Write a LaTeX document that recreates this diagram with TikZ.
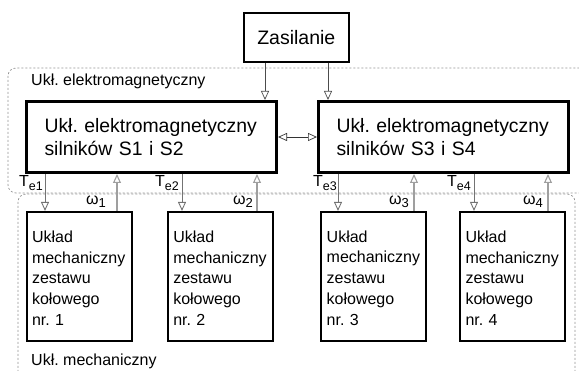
\documentclass[tikz,border=0pt]{standalone}
\usepackage{fontspec}
\setmainfont{Liberation Sans}
\usetikzlibrary{arrows.meta}
\frenchspacing
\begin{document}
\frenchspacing
\begin{tikzpicture}[x=1pt,y=-1pt,
  region/.style={draw=gray!85, line width=0.7pt, dash pattern=on 2pt off 2pt, rounded corners=8pt},
  bigbox/.style={draw, line width=3pt, minimum width=250pt, minimum height=71pt, text width=214pt, align=left, inner sep=0pt, font=\fontsize{19.4}{23}\selectfont},
  supbox/.style={draw, line width=2pt, minimum width=104.5pt, minimum height=49pt, inner sep=0pt, font=\fontsize{19.5}{23}\selectfont},
  mechbox/.style={draw, line width=2pt, minimum width=105pt, minimum height=128.7pt, text width=94pt, align=left, inner sep=0pt, text height=15pt, font=\fontsize{16}{20.75}\selectfont},
  regionlabel/.style={anchor=base west, inner sep=0pt, font=\fontsize{16}{18}\selectfont},
  varlabel/.style={anchor=base east, inner sep=0pt, font=\fontsize{16}{18}\selectfont},
  tearrow/.style={draw=gray!90!black, line width=0.9pt, -{Triangle[open, length=9pt, width=8pt]}},
  omarrow/.style={draw=gray!75, line width=1.1pt, -{Triangle[open, length=9pt, width=8pt]}},
  suparrow/.style={draw=black!70, line width=0.7pt, -{Triangle[open, length=9pt, width=8pt]}},
  dblarrow/.style={draw=black!80, line width=0.7pt, {Triangle[open, length=9pt, width=8pt]}-{Triangle[open, length=9pt, width=8pt]}}
]
\useasboundingbox (0,0) rectangle (579,371);

% regions
\begin{scope}
  \clip (0,0) rectangle (579,371);
  \draw[region] (8,68) rectangle (590,193);
  \draw[region] (18,194) rectangle (575,420);
\end{scope}
\node[regionlabel] (lem) at (31,86) {Ukł. elektromagnetyczny};
\node[regionlabel] (lmech) at (31,366) {Ukł. mechaniczny};

% boxes
\node[supbox] (zas) at (296.3,37.2) {Zasilanie};
\node[bigbox] (b1) at (151.5,137) {Ukł. elektromagnetyczny\\silników S1 i S2};
\node[bigbox] (b2) at (443.5,137) {Ukł. elektromagnetyczny\\silników S3 i S4};
\node[mechbox] (m1) at (79,276.3) {Układ\\mechaniczny\\zestawu\\kołowego\\nr. 1};
\node[mechbox] (m2) at (220.3,276.3) {Układ\\mechaniczny\\zestawu\\kołowego\\nr. 2};
\node[mechbox] (m3) at (373.7,276.3) {Układ\\mechaniczny\\zestawu\\kołowego\\nr. 3};
\node[mechbox] (m4) at (512.5,276.3) {Układ\\mechaniczny\\zestawu\\kołowego\\nr. 4};

% x positions of vertical connectors
\coordinate (xs1) at (265,0);
\coordinate (xs2) at (328,0);
\coordinate (xt1) at (45,0);
\coordinate (xo1) at (117,0);
\coordinate (xt2) at (182,0);
\coordinate (xo2) at (257,0);
\coordinate (xt3) at (338,0);
\coordinate (xo3) at (414,0);
\coordinate (xt4) at (474,0);
\coordinate (xo4) at (548,0);

% connectors
\draw[suparrow] (zas.south -| xs1) -- (b1.north -| xs1);
\draw[suparrow] (zas.south -| xs2) -- (b2.north -| xs2);
\draw[dblarrow] (b1.east) -- (b2.west);

\draw[tearrow] (b1.south -| xt1) -- (m1.north -| xt1);
\draw[omarrow] (m1.north -| xo1) -- (b1.south -| xo1);
\draw[tearrow] (b1.south -| xt2) -- (m2.north -| xt2);
\draw[omarrow] (m2.north -| xo2) -- (b1.south -| xo2);
\draw[tearrow] (b2.south -| xt3) -- (m3.north -| xt3);
\draw[omarrow] (m3.north -| xo3) -- (b2.south -| xo3);
\draw[tearrow] (b2.south -| xt4) -- (m4.north -| xt4);
\draw[omarrow] (m4.north -| xo4) -- (b2.south -| xo4);

% labels
\node[varlabel] (te1) at (43,187) {T\raisebox{-4pt}{\fontsize{12.5}{13}\selectfont e1}};
\node[varlabel] (te2) at (179,187) {T\raisebox{-4pt}{\fontsize{12.5}{13}\selectfont e2}};
\node[varlabel] (te3) at (337,187) {T\raisebox{-4pt}{\fontsize{12.5}{13}\selectfont e3}};
\node[varlabel] (te4) at (471,187) {T\raisebox{-4pt}{\fontsize{12.5}{13}\selectfont e4}};
\node[varlabel] (w1) at (106,205) {ω\raisebox{-3pt}{\fontsize{13}{13}\selectfont 1}};
\node[varlabel] (w2) at (253,205) {ω\raisebox{-3pt}{\fontsize{13}{13}\selectfont 2}};
\node[varlabel] (w3) at (409,205) {ω\raisebox{-3pt}{\fontsize{13}{13}\selectfont 3}};
\node[varlabel] (w4) at (543,205) {ω\raisebox{-3pt}{\fontsize{13}{13}\selectfont 4}};
\end{tikzpicture}
\end{document}
